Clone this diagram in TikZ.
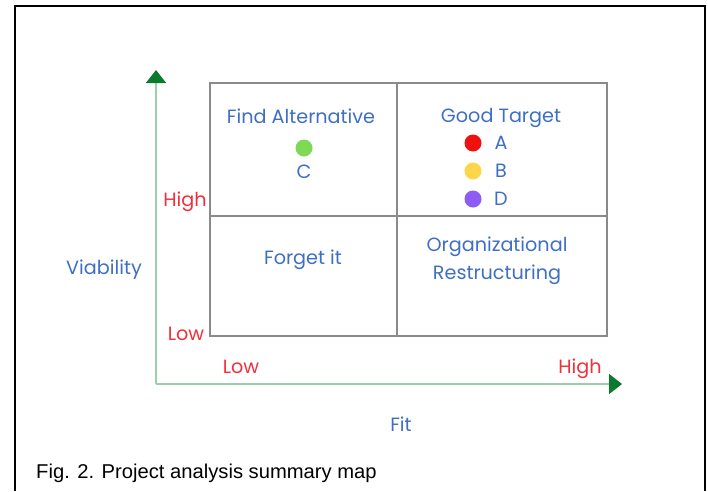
\documentclass[tikz,border=0pt]{standalone}
\usepackage{fontspec}
\setmainfont{Poppins}
\newfontfamily\capfont[FakeStretch=1.01]{Liberation Sans}
\usetikzlibrary{arrows.meta}
\definecolor{labelblue}{HTML}{3F6FC4}
\definecolor{levelred}{HTML}{F0303A}
\definecolor{axisline}{HTML}{9CD0A8}
\definecolor{axistip}{HTML}{0B7A2E}
\definecolor{gridgray}{HTML}{8A8A8A}
\definecolor{dotgreen}{HTML}{7ED957}
\definecolor{dotred}{HTML}{F01010}
\definecolor{dotyellow}{HTML}{FFD54A}
\definecolor{dotpurple}{HTML}{8C5CF5}
\begin{document}
\begin{tikzpicture}[x=1pt,y=-1pt,
  quad/.style={text=labelblue,font=\fontsize{19.2}{23}\selectfont,inner sep=0pt,align=center},
  level/.style={text=levelred,font=\fontsize{19.2}{23}\selectfont,inner sep=0pt},
  axis/.style={draw=axisline,line width=1.6pt,-{Triangle[width=20pt,length=13pt,color=axistip]}},
  gridline/.style={draw=gridgray,line width=1.1pt},
  dot/.style={circle,inner sep=0pt,minimum size=17pt},
  tag/.style={text=labelblue,font=\fontsize{19.2}{23}\selectfont,inner sep=0pt}]
\useasboundingbox (0,0) rectangle (708,491);
\fill[white] (0,0) rectangle (708,491);
% outer frame, open at the bottom
\draw[line width=2pt,black] (15,491) -- (15,6) -- (705,6) -- (705,491);

% axes
\coordinate (origin) at (156,384);
\coordinate (ytip) at (156,70);
\coordinate (xtip) at (622,384);
\draw[axis] (origin) -- (ytip);
\draw[axis] (origin) -- (xtip);

% quadrant grid
\coordinate (gnw) at (210,83);
\coordinate (gse) at (607,336);
\draw[gridline] (gnw) rectangle (gse);
\draw[gridline] (397,83) -- (397,336);
\draw[gridline] (210,216) -- (607,216);

% quadrant titles
\node[quad] (findalt) at (301,116) {Find Alternative};
\node[quad] (good) at (501,118) {Good Target};
\node[quad] (forget) at (303,260) {Forget it};
\node[quad] (reorg) at (497,261) {Organizational\\[5pt]Restructuring};

% projects
\node[dot,fill=dotgreen] (dc) at (304,148) {};
\node[tag] (tc) at (304,172) {C};
\node[dot,fill=dotred] (da) at (473,143) {};
\node[tag] (ta) at (501,143) {A};
\node[dot,fill=dotyellow] (db) at (473,171) {};
\node[tag] (tb) at (501,171) {B};
\node[dot,fill=dotpurple] (dd) at (473,199) {};
\node[tag] (td) at (501,199) {D};

% level marks
\node[level] (vhigh) at (185,202) {High};
\node[level] (vlow) at (186,334) {Low};
\node[level] (flow) at (241,367) {Low};
\node[level] (fhigh) at (580,369) {High};

% axis names
\node[quad] (viab) at (104,270) {Viability};
\node[quad] (fit) at (401,424) {Fit};

% caption
\node[anchor=west,inner sep=0pt,font=\capfont\fontsize{20}{22}\selectfont] (cap) at (36,473) {Fig. 2. Project analysis summary map};
\end{tikzpicture}
\end{document}
